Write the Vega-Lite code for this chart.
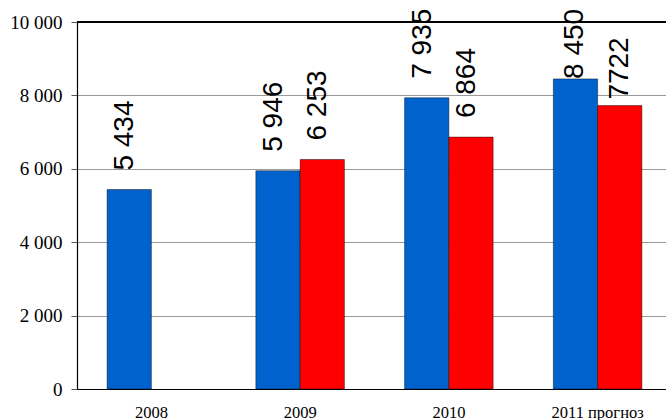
{
  "$schema": "https://vega.github.io/schema/vega-lite/v6.json",
  "width": 589,
  "height": 367,
  "autosize": {"type": "none"},
  "padding": {"left": 77, "top": 22, "right": 0, "bottom": 31},
  "background": "white",
  "config": {
    "view": {"stroke": null}
  },
  "data": {
    "values": [
      {"year": "2008", "series": "A", "value": 5434, "label": "5 434"},
      {"year": "2009", "series": "A", "value": 5946, "label": "5 946"},
      {"year": "2009", "series": "B", "value": 6253, "label": "6 253"},
      {"year": "2010", "series": "A", "value": 7935, "label": "7 935"},
      {"year": "2010", "series": "B", "value": 6864, "label": "6 864"},
      {"year": "2011 прогноз", "series": "A", "value": 8450, "label": "8 450"},
      {"year": "2011 прогноз", "series": "B", "value": 7722, "label": "7722"}
    ]
  },
  "encoding": {
    "x": {
      "field": "year", "type": "nominal", "sort": null, "title": null,
      "scale": {"range": [0, 595], "paddingInner": 0, "paddingOuter": 0},
      "axis": {
        "labelAngle": 0, "ticks": false, "labelPadding": 28, "labelBaseline": "alphabetic",
        "labelFont": "Liberation Serif, Times New Roman, serif", "labelFontSize": 16.5, "labelColor": "#000000",
        "domainColor": "#000000", "domainWidth": 1.2, "grid": false
      }
    },
    "xOffset": {
      "field": "series", "type": "nominal",
      "scale": {"domain": ["A", "B"], "paddingInner": 0, "paddingOuter": 0.68}
    },
    "y": {
      "field": "value", "type": "quantitative", "title": null,
      "scale": {"domain": [0, 10000], "nice": false, "zero": true},
      "axis": {
        "values": [0, 2000, 4000, 6000, 8000, 10000],
        "labelExpr": "replace(format(datum.value, ',d'), ',', ' ')",
        "labelFont": "Liberation Serif, Times New Roman, serif", "labelFontSize": 19, "labelColor": "#000000",
        "labelPadding": 9, "tickSize": 6, "tickColor": "#555555",
        "domainColor": "#000000", "domainWidth": 1.2,
        "grid": true, "gridColor": "#9a9a9a", "gridWidth": 1.2
      }
    }
  },
  "layer": [
    {
      "mark": {"type": "bar", "stroke": "#000000", "strokeWidth": 0.8, "strokeOpacity": 0.55},
      "encoding": {
        "color": {
          "field": "series", "type": "nominal", "legend": null,
          "scale": {"domain": ["A", "B"], "range": ["#0062CC", "#FF0000"]}
        }
      }
    },
    {
      "mark": {"type": "rule", "color": "#000000", "strokeWidth": 1.2},
      "encoding": {"y": {"datum": 10000, "type": "quantitative"}, "x": null, "xOffset": null}
    },
    {
      "transform": [{"filter": "datum.year !== '2011 прогноз'"}],
      "mark": {"type": "text", "angle": 270, "align": "left", "baseline": "middle", "dx": 19, "dy": -4,
               "font": "Liberation Sans", "fontSize": 28, "color": "#000000"},
      "encoding": {"text": {"field": "label"}}
    },
    {
      "transform": [{"filter": "datum.year === '2011 прогноз' && datum.series === 'A'"}],
      "mark": {"type": "text", "angle": 270, "align": "left", "baseline": "middle", "dx": 0, "dy": 0,
               "font": "Liberation Sans", "fontSize": 28, "color": "#000000"},
      "encoding": {"text": {"field": "label"}}
    },
    {
      "transform": [{"filter": "datum.year === '2011 прогноз' && datum.series === 'B'"}],
      "mark": {"type": "text", "angle": 270, "align": "left", "baseline": "middle", "dx": 6, "dy": 0,
               "font": "Liberation Sans", "fontSize": 28, "color": "#000000"},
      "encoding": {"text": {"field": "label"}}
    }
  ]
}
